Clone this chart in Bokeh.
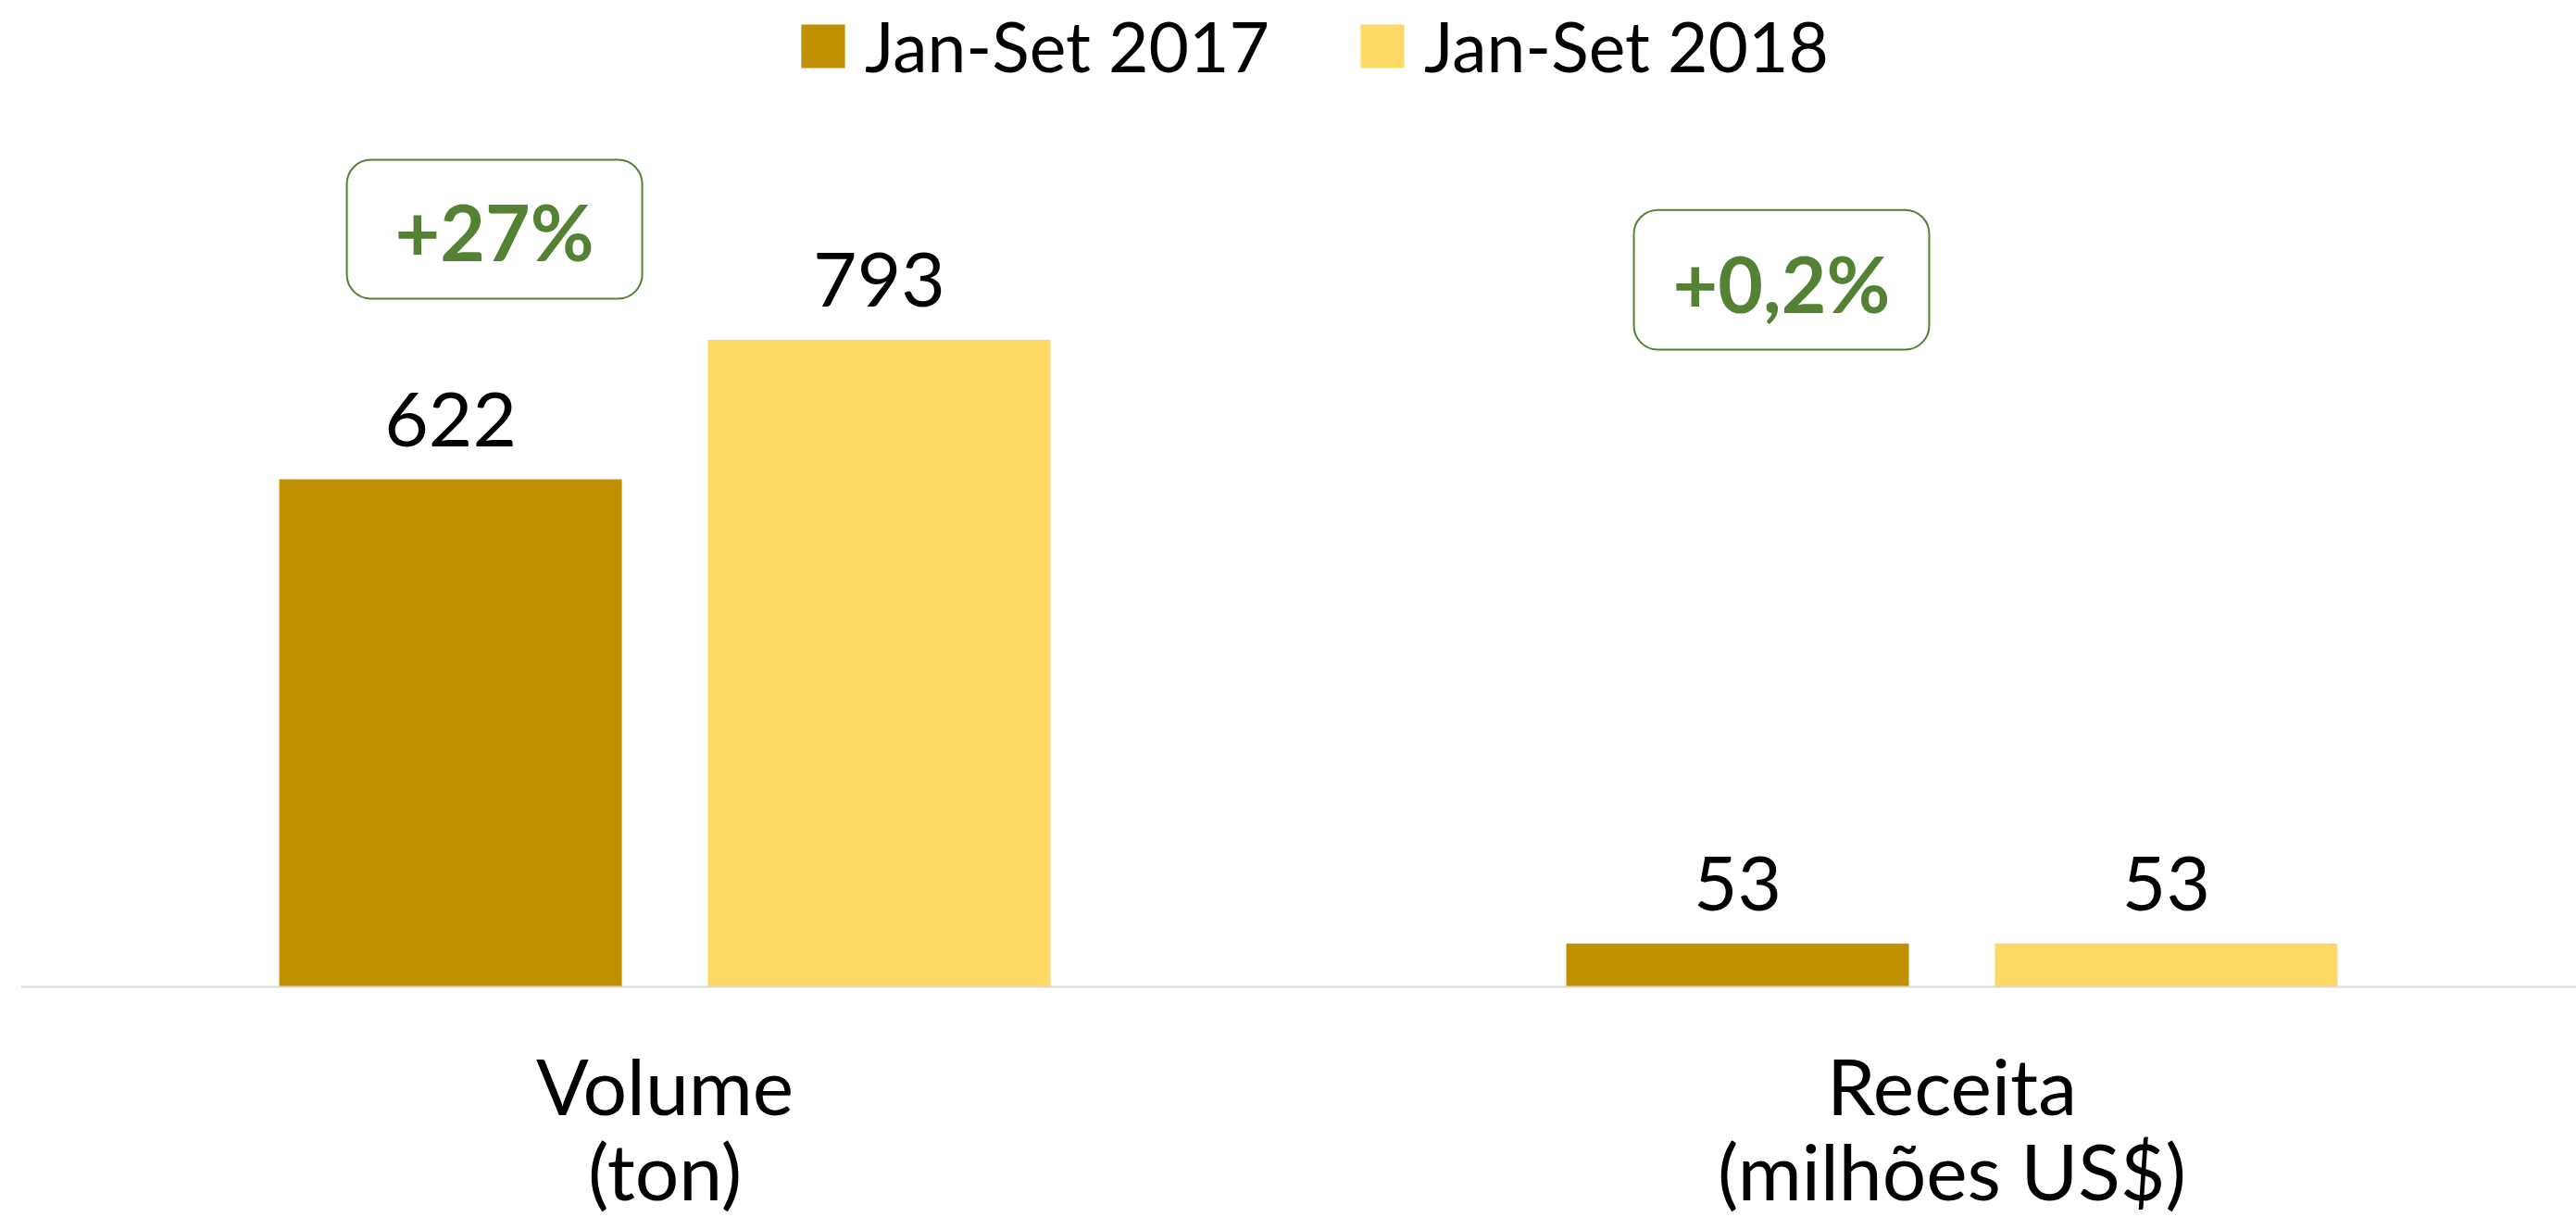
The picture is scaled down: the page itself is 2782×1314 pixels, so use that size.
from bokeh.plotting import figure
from bokeh.models import (Range1d, Legend, LegendItem, BoxAnnotation, Label, Span,
                          ColumnDataSource)
from bokeh.transform import dodge
from bokeh.core.properties import value
from bokeh.embed import file_html
from bokeh.resources import INLINE

# ---- data ----
categories = ["Volume\n(ton)", "Receita\n(milhões US$)"]
series_names = ["Jan-Set 2017", "Jan-Set 2018"]
values_2017 = [622, 53]
values_2018 = [793, 53]
changes = ["+27%", "+0,2%"]

# ---- styles ----
C17 = "#BF9000"
C18 = "#FFD966"
GREEN = "#548235"
FONT = "Lato"

W, H = 2782, 1314
p = figure(width=W, height=H, x_range=Range1d(-0.5004, 1.4853), y_range=Range1d(-282.6, 1208.9),
           output_backend="svg", toolbar_location=None, y_axis_location=None,
           x_axis_location=None,
           min_border_left=22, min_border_right=0, min_border_top=0, min_border_bottom=0)
p.background_fill_color = "white"
p.border_fill_color = "white"
p.outline_line_color = None
p.xgrid.visible = False
p.ygrid.visible = False

xs = list(range(len(categories)))
line1 = [c.split("\n")[0] for c in categories]
line2 = [c.split("\n")[1] for c in categories]
src = ColumnDataSource(dict(
    x=xs,
    zero=[0] * len(xs),
    v17=values_2017,
    v18=values_2018,
    l17=[str(v) for v in values_2017],
    l18=[str(v) for v in values_2018],
    c1=line1,
    c2=line2,
))

# baseline (category axis line)
p.add_layout(Span(location=0, dimension="width", line_color="#D9D9D9", line_width=2))

OFF = 0.1665
BW = 0.2662
r17 = p.vbar(x=dodge("x", -OFF, range=p.x_range), top="v17", width=BW, source=src,
             fill_color=C17, line_color=None)
r18 = p.vbar(x=dodge("x", OFF, range=p.x_range), top="v18", width=BW, source=src,
             fill_color=C18, line_color=None)

for col, off in (("17", -OFF), ("18", OFF)):
    p.text(x=dodge("x", off, range=p.x_range), y="v" + col, text="l" + col, source=src,
           text_align="center", text_baseline="alphabetic", y_offset=-65,
           text_font=value(FONT), text_font_size="82px", text_color="black")

# category labels
for col, yoff in (("c1", 106), ("c2", 198)):
    p.text(x="x", y="zero", text=col, source=src, text_align="center",
           text_baseline="alphabetic", y_offset=yoff,
           text_font=value(FONT), text_font_size="84px", text_color="black")

# change boxes
box_tops = [1013.6, 952.2]
box_bottoms = [843.4, 781.0]
text_base = [926.0, 863.0]
for i, ch in enumerate(changes):
    p.add_layout(BoxAnnotation(left=i - 0.2471, right=i - 0.0176, top=box_tops[i],
                               bottom=box_bottoms[i], fill_alpha=0, line_color=GREEN,
                               line_alpha=1, line_width=2, border_radius=26))
    p.add_layout(Label(x=i - 0.1324, y=text_base[i], text=ch, text_align="center",
                       text_baseline="alphabetic", text_font=FONT, text_font_style="bold",
                       text_font_size="84px", text_color=GREEN))

legend = Legend(items=[LegendItem(label=series_names[0], renderers=[r17]),
                       LegendItem(label=series_names[1], renderers=[r18])],
                orientation="horizontal", location=(837, 1220),
                glyph_width=59, glyph_height=59, label_text_font=FONT,
                label_text_font_size="75px", label_text_color="black",
                label_standoff=16, spacing=92,
                padding=0, margin=0, border_line_alpha=0, background_fill_alpha=0)
p.add_layout(legend)

open("out.html", "w").write(file_html(p, INLINE))
